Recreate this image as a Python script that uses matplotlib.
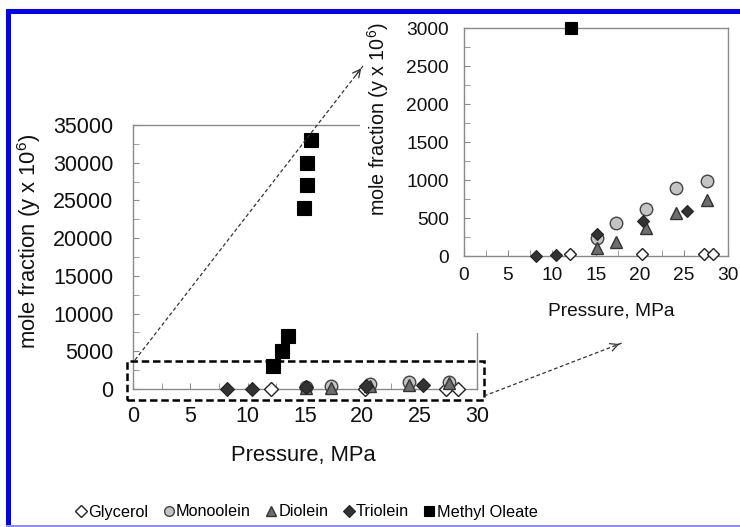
import numpy as np
import matplotlib; matplotlib.use("Agg")
import matplotlib.pyplot as plt
from matplotlib.lines import Line2D
from matplotlib.patches import Rectangle, FancyArrowPatch
from matplotlib.ticker import MultipleLocator

plt.rcParams["font.family"] = ["Liberation Sans", "DejaVu Sans"]
plt.rcParams["mathtext.default"] = "regular"

# data (pressure MPa, mole fraction x 1e6)
gly_p = [12.0, 20.2, 27.3, 28.3]
gly_y = [20, 20, 20, 20]
mono_p = [15.1, 17.3, 20.7, 24.1, 27.6]
mono_y = [240, 430, 615, 890, 990]
dio_p = [15.1, 17.3, 20.7, 24.1, 27.6]
dio_y = [110, 180, 370, 560, 740]
tri_p = [8.2, 10.4, 15.1, 20.3, 25.3]
tri_y = [5, 10, 285, 455, 595]
mo_p = [12.2, 13.0, 13.5, 14.9, 15.2, 15.2, 15.5]
mo_y = [3000, 5000, 7000, 24000, 27000, 30000, 33000]

series = [
    ("Glycerol", gly_p, gly_y, dict(marker="D", mfc="white", mec="#222222", mew=1.0), 7.5, 6.5),
    ("Monoolein", mono_p, mono_y, dict(marker="o", mfc="#c4c4c4", mec="#444444", mew=1.0), 9, 9),
    ("Diolein", dio_p, dio_y, dict(marker="^", mfc="#6e6e6e", mec="#333333", mew=1.0), 9, 9),
    ("Triolein", tri_p, tri_y, dict(marker="D", mfc="#333333", mec="#222222", mew=0.8), 7, 6.5),
    ("Methyl Oleate", mo_p, mo_y, dict(marker="s", mfc="black", mec="black", mew=0.8), 10, 9),
]

W, H = 740, 527
fig = plt.figure(figsize=(W / 100, H / 100), dpi=100)
spine_c = "#8a8a8a"


def style(ax, fs, pad_y, pad_x):
    for s in ax.spines.values():
        s.set_color(spine_c)
        s.set_linewidth(1.0)
    ax.tick_params(which="both", direction="in", color=spine_c, length=4,
                   labelsize=fs, labelcolor="#111111")
    ax.tick_params(axis="y", pad=pad_y)
    ax.tick_params(axis="x", pad=pad_x)
    ax.tick_params(which="minor", length=4)
    ax.xaxis.set_major_locator(MultipleLocator(5))
    ax.xaxis.set_minor_locator(MultipleLocator(2.5))


# main axes
ax = fig.add_axes([133 / W, 1 - 389 / H, 344 / W, 264 / H], zorder=0)
for name, p, y, kw, ms, _ in series:
    ax.plot(p, y, ls="none", ms=ms, clip_on=False, zorder=3, **kw)
ax.set_xlim(0, 30)
ax.set_ylim(0, 35000)
ax.yaxis.set_major_locator(MultipleLocator(5000))
ax.yaxis.set_minor_locator(MultipleLocator(2500))
style(ax, 15.5, 14, 12)
ax.set_xlabel("Pressure, MPa", fontsize=15.8, color="#111111")
ax.set_ylabel("mole fraction (y x 10$^6$)", fontsize=15.8, color="#111111")
ax.xaxis.set_label_coords(0.494, -0.212)
ax.yaxis.set_label_coords(-0.262, 0.56)

# dashed zoom box on the main plot
ax.add_patch(Rectangle((-0.5, -1450), 31.1, 5200, fill=False, ec="black",
                       lw=1.8, ls=(0, (3, 1.5)), clip_on=False, zorder=4))

# white backing behind the inset
fig.add_artist(Rectangle((360 / W, 1 - 333 / H), 1 - 360 / W, (333 - 15) / H,
                         transform=fig.transFigure, fc="white", ec="none", zorder=0.5))

# inset axes
ins = fig.add_axes([464 / W, 1 - 256 / H, 264 / W, 228 / H], zorder=1)
for name, p, y, kw, _, ms in series:
    pp = [a for a, b in zip(p, y) if b <= 3000]
    yy = [b for b in y if b <= 3000]
    ins.plot(pp, yy, ls="none", ms=ms, clip_on=False, zorder=3, **kw)
ins.set_xlim(0, 30)
ins.set_ylim(0, 3000)
ins.yaxis.set_major_locator(MultipleLocator(500))
ins.yaxis.set_minor_locator(MultipleLocator(250))
style(ins, 13.8, 11, 8)
ins.set_xlabel("Pressure, MPa", fontsize=13.8, color="#111111")
ins.set_ylabel("mole fraction (y x 10$^6$)", fontsize=14.2, color="#111111")
ins.xaxis.set_label_coords(0.557, -0.206)
ins.yaxis.set_label_coords(-0.275, 0.6)


# dashed arrows
def px(x, y):
    return (x / W, 1 - y / H)


def dashed_arrow(p0, p1):
    (x0, y0), (x1, y1) = px(*p0), px(*p1)
    fig.add_artist(Line2D([x0, x1], [y0, y1], transform=fig.transFigure,
                          color="#333333", lw=0.9, ls=(0, (3, 2)), zorder=5))
    dx, dy = x1 - x0, y1 - y0
    fig.add_artist(FancyArrowPatch((x1 - dx * 0.04, y1 - dy * 0.04), (x1, y1),
                                   transform=fig.transFigure, arrowstyle="->",
                                   mutation_scale=14, color="#333333", lw=0.9, zorder=5))


dashed_arrow((135, 360), (363, 66))
dashed_arrow((484, 396), (622, 343))

# legend
handles = [Line2D([], [], ls="none", ms=7 if s[3]["marker"] != "D" else 6, **s[3]) for s in series]
fig.legend(handles, [s[0] for s in series], loc="center", bbox_to_anchor=(0.414, 1 - 512 / H),
           ncol=5, frameon=False, fontsize=11.7, handlelength=0.7, handletextpad=0.1,
           columnspacing=0.9, borderaxespad=0)

# blue frame of the figure image
fig.add_artist(Rectangle(px(6, 14), 1, 5 / H, transform=fig.transFigure,
                         fc="#0000ff", ec="none", zorder=6))
fig.add_artist(Rectangle(px(6, 527), 5 / W, (527 - 9) / H, transform=fig.transFigure,
                         fc="#0000ff", ec="none", zorder=6))
fig.add_artist(Rectangle(px(6, 527), 1, 2 / H, transform=fig.transFigure,
                         fc="#8c8cff", ec="none", zorder=6))

fig.savefig("out.png", dpi=100)
